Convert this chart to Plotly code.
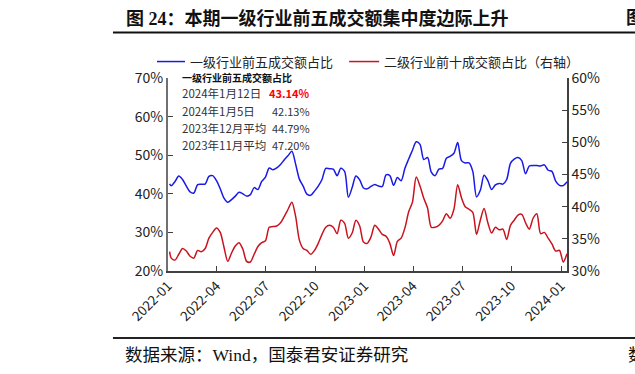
import pandas as pd
import plotly.graph_objects as go

# ---------------- data ----------------
dates = ["2022-01-04"] + [d.strftime("%Y-%m-%d") for d in pd.date_range("2022-01-07", periods=106, freq="7D")]

top5_level1 = [42.6,
    42.1, 43.2, 44.6, 43.7, 42.0, 40.5, 40.2, 42.4, 42.5, 42.5,
    44.5, 44.7, 43.4, 41.3, 38.9, 37.8, 38.5, 39.4, 40.4, 40.0,
    39.4, 39.8, 41.6, 41.1, 43.2, 44.3, 46.7, 46.2, 46.7, 47.6,
    48.8, 49.9, 51.0, 47.7, 43.8, 42.0, 39.9, 39.6, 40.7, 42.0,
    43.7, 46.6, 46.5, 46.4, 44.7, 46.6, 45.8, 39.1, 41.6, 44.6,
    43.6, 41.5, 41.3, 41.9, 42.4, 42.0, 41.9, 44.9, 44.7, 42.2,
    44.2, 43.4, 46.6, 49.0, 51.3, 53.5, 52.8, 48.9, 49.4, 45.6,
    44.7, 46.4, 46.6, 49.2, 49.7, 50.5, 53.3, 48.6, 48.0, 48.0,
    45.8, 39.2, 40.9, 44.8, 43.4, 41.1, 42.3, 42.7, 42.5, 43.7,
    47.9, 49.0, 49.4, 48.6, 45.2, 47.2, 47.3, 47.3, 47.2, 47.5,
    46.1, 45.8, 43.3, 42.2, 42.13, 43.14]

top10_level2 = [33.0,
    32.0, 31.7, 32.6, 33.5, 33.1, 32.3, 32.0, 33.2, 33.0, 33.5,
    35.1, 36.0, 36.7, 36.0, 33.7, 31.5, 32.8, 33.9, 34.4, 33.4,
    31.5, 31.4, 32.6, 33.8, 34.4, 34.7, 36.8, 36.9, 37.0, 37.5,
    38.5, 39.6, 40.7, 38.5, 34.8, 33.5, 33.2, 32.6, 33.2, 34.3,
    35.7, 36.8, 37.1, 36.8, 35.8, 37.9, 37.4, 35.1, 35.9, 37.9,
    37.0, 34.5, 34.3, 35.3, 37.1, 36.5, 35.7, 35.4, 34.3, 32.4,
    34.6, 35.1, 36.7, 39.2, 40.7, 44.6, 43.2, 41.3, 39.8, 36.8,
    36.8, 37.1, 37.8, 38.9, 38.2, 39.6, 43.4, 41.4, 40.0, 39.6,
    39.1, 35.7, 37.9, 39.7, 37.5, 35.9, 36.8, 36.4, 36.5, 34.9,
    37.1, 37.9, 38.7, 38.8, 37.5, 36.5, 38.2, 38.9, 35.8, 36.0,
    35.1, 34.2, 33.1, 33.2, 31.4, 32.7]

tick_dates = ["2022-01-01", "2022-04-01", "2022-07-01", "2022-10-01", "2023-01-01",
              "2023-04-01", "2023-07-01", "2023-10-01", "2024-01-01"]
tick_labels = ["2022-01", "2022-04", "2022-07", "2022-10", "2023-01",
               "2023-04", "2023-07", "2023-10", "2024-01"]

series_names = ["一级行业前五成交额占比", "二级行业前十成交额占比（右轴）"]
table_title = "一级行业前五成交额占比"
table_labels = ["2024年1月12日", "2024年1月5日", "2023年12月平均", "2023年11月平均"]
table_values = ["43.14%", "42.13%", "44.79%", "47.20%"]

# ---------------- layout helpers ----------------
W, H = 635, 374
L, R, T, B = 168, 566.7, 78.4, 270.7

def px(x):
    return (x - L) / (R - L)

def py(y):
    return (B - y) / (B - T)

SANS = "Noto Sans CJK SC, Noto Sans, sans-serif"
SERIF = "Liberation Serif, Noto Sans CJK SC, serif"
BLUE = "#1a1ae6"
RED = "#c8141e"

fig = go.Figure()
fig.add_trace(go.Scatter(x=dates, y=top5_level1, name=series_names[0], mode="lines",
                         line=dict(color=BLUE, width=1.5, shape="spline", smoothing=0.8),
                         yaxis="y"))
fig.add_trace(go.Scatter(x=dates, y=top10_level2, name=series_names[1], mode="lines",
                         line=dict(color=RED, width=1.5, shape="spline", smoothing=0.8),
                         yaxis="y2"))

axis_col = "#404040"
fig.update_layout(
    width=W, height=H,
    margin=dict(l=L, r=W - R, t=T, b=H - B, pad=0),
    paper_bgcolor="white", plot_bgcolor="white",
    showlegend=False,
    font=dict(family=SANS, color="#222", size=13),
    xaxis=dict(type="date", range=["2022-01-01", "2024-01-12"],
               tickvals=tick_dates, ticktext=tick_labels, tickangle=-45,
               ticks="inside", ticklen=5, tickcolor=axis_col, tickwidth=1,
               showline=True, linecolor=axis_col, linewidth=1.5,
               showgrid=False, zeroline=False,
               tickfont=dict(size=13.5, family=SANS, color="#222")),
    yaxis=dict(range=[20, 70], dtick=10, ticksuffix="%",
               ticks="inside", ticklen=5, tickcolor=axis_col, tickwidth=1,
               showline=True, linecolor="#707070", linewidth=2,
               showgrid=False, zeroline=False,
               tickfont=dict(size=14, family=SANS, color="#222")),
    yaxis2=dict(range=[30, 60], dtick=5, ticksuffix="%", overlaying="y", side="right",
                ticks="inside", ticklen=5, tickcolor=axis_col, tickwidth=1,
                showline=True, linecolor=axis_col, linewidth=1.5,
                showgrid=False, zeroline=False,
                tickfont=dict(size=14, family=SANS, color="#222")),
)

shapes = []
annotations = []

# title
annotations.append(dict(xref="paper", yref="paper", x=px(124), y=py(19), xanchor="left", yanchor="middle",
                        text="<b>图 24：本期一级行业前五成交额集中度边际上升</b>", showarrow=False,
                        font=dict(family=SERIF, size=18, color="#111")))
annotations.append(dict(xref="paper", yref="paper", x=px(624), y=py(19), xanchor="left", yanchor="middle",
                        text="<b>图</b>", showarrow=False,
                        font=dict(family=SERIF, size=18, color="#111")))
shapes.append(dict(type="line", xref="paper", yref="paper", x0=px(113), x1=px(636), y0=py(33), y1=py(33),
                   line=dict(color="#111", width=2)))
# source
annotations.append(dict(xref="paper", yref="paper", x=px(123), y=py(354), xanchor="left", yanchor="middle",
                        text="数据来源：Wind，国泰君安证券研究", showarrow=False,
                        font=dict(family=SERIF, size=17.5, color="#111")))
annotations.append(dict(xref="paper", yref="paper", x=px(626), y=py(354), xanchor="left", yanchor="middle",
                        text="数", showarrow=False,
                        font=dict(family=SERIF, size=17.5, color="#111")))
shapes.append(dict(type="line", xref="paper", yref="paper", x0=px(113), x1=px(636), y0=py(337.5), y1=py(337.5),
                   line=dict(color="#222", width=2)))

# legend
leg = [(157, 185, 188, BLUE, series_names[0]), (349, 379, 382, RED, series_names[1])]
for x0, x1, xt, col, name in leg:
    shapes.append(dict(type="line", xref="paper", yref="paper", x0=px(x0), x1=px(x1), y0=py(62), y1=py(62),
                       line=dict(color=col, width=1.5)))
    annotations.append(dict(xref="paper", yref="paper", x=px(xt), y=py(62), xanchor="left", yanchor="middle",
                            text=name, showarrow=False, font=dict(family=SANS, size=13, color="#222")))

# inner table
annotations.append(dict(xref="paper", yref="paper", x=px(180), y=py(78), xanchor="left", yanchor="middle",
                        text="<b>" + table_title + "</b>", showarrow=False,
                        font=dict(family=SANS, size=10, color="#111")))
row_y = [93.5, 111, 128, 145.5]
for i, (lab, val) in enumerate(zip(table_labels, table_values)):
    annotations.append(dict(xref="paper", yref="paper", x=px(180), y=py(row_y[i]), xanchor="left", yanchor="middle",
                            text=lab, showarrow=False, font=dict(family=SANS, size=11.5, color="#333")))
    if i == 0:
        vt, vc = "<b>" + val + "</b>", "#ff0000"
    else:
        vt, vc = val, "#333"
    annotations.append(dict(xref="paper", yref="paper", x=px(312), y=py(row_y[i]), xanchor="right", yanchor="middle",
                            text=vt, showarrow=False, font=dict(family=SANS, size=11, color=vc)))

fig.update_layout(shapes=shapes, annotations=annotations)
fig.write_html("out.html", config={"displayModeBar": False},
               post_script="document.body.style.margin='0';document.body.style.padding='0';")
